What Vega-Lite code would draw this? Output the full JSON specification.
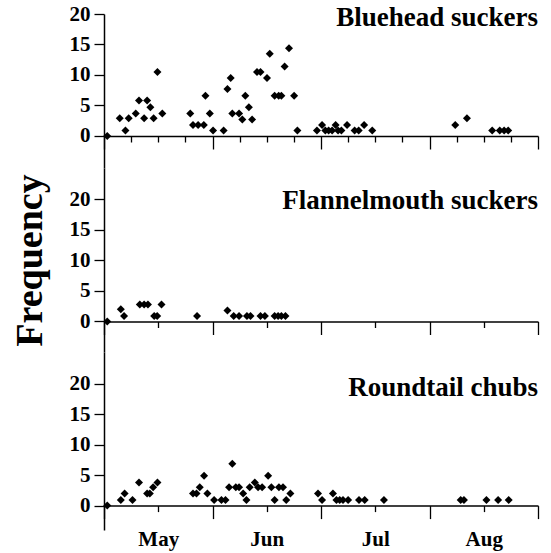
{
  "$schema": "https://vega.github.io/schema/vega-lite/v6.json",
  "background": "white",
  "padding": {"left": 10, "top": 3, "right": 5, "bottom": 5},
  "spacing": 0,
  "config": {"view": {"stroke": null}, "font": "Liberation Serif", "concat": {"spacing": 0}},
  "datasets": {
    "labels": [
      {"species": "Bluehead suckers"},
      {"species": "Flannelmouth suckers"},
      {"species": "Roundtail chubs"}
    ],
    "fish": [
      {"species": "Bluehead suckers", "week": 0.12, "freq": 0},
      {"species": "Bluehead suckers", "week": 0.58, "freq": 2.9},
      {"species": "Bluehead suckers", "week": 0.79, "freq": 0.9},
      {"species": "Bluehead suckers", "week": 0.91, "freq": 2.9},
      {"species": "Bluehead suckers", "week": 1.17, "freq": 3.7},
      {"species": "Bluehead suckers", "week": 1.29, "freq": 5.8},
      {"species": "Bluehead suckers", "week": 1.48, "freq": 2.9},
      {"species": "Bluehead suckers", "week": 1.59, "freq": 5.8},
      {"species": "Bluehead suckers", "week": 1.71, "freq": 4.7},
      {"species": "Bluehead suckers", "week": 1.83, "freq": 2.9},
      {"species": "Bluehead suckers", "week": 1.97, "freq": 10.5},
      {"species": "Bluehead suckers", "week": 2.15, "freq": 3.7},
      {"species": "Bluehead suckers", "week": 3.18, "freq": 3.7},
      {"species": "Bluehead suckers", "week": 3.28, "freq": 1.8},
      {"species": "Bluehead suckers", "week": 3.47, "freq": 1.8},
      {"species": "Bluehead suckers", "week": 3.68, "freq": 1.8},
      {"species": "Bluehead suckers", "week": 3.74, "freq": 6.6},
      {"species": "Bluehead suckers", "week": 3.9, "freq": 3.7},
      {"species": "Bluehead suckers", "week": 4.02, "freq": 0.9},
      {"species": "Bluehead suckers", "week": 4.41, "freq": 0.9},
      {"species": "Bluehead suckers", "week": 4.55, "freq": 7.7},
      {"species": "Bluehead suckers", "week": 4.67, "freq": 9.5},
      {"species": "Bluehead suckers", "week": 4.73, "freq": 3.7},
      {"species": "Bluehead suckers", "week": 4.98, "freq": 3.7},
      {"species": "Bluehead suckers", "week": 5.1, "freq": 2.7},
      {"species": "Bluehead suckers", "week": 5.21, "freq": 6.6},
      {"species": "Bluehead suckers", "week": 5.34, "freq": 4.7},
      {"species": "Bluehead suckers", "week": 5.46, "freq": 2.7},
      {"species": "Bluehead suckers", "week": 5.64, "freq": 10.5},
      {"species": "Bluehead suckers", "week": 5.77, "freq": 10.5},
      {"species": "Bluehead suckers", "week": 6.01, "freq": 9.5},
      {"species": "Bluehead suckers", "week": 6.11, "freq": 13.5},
      {"species": "Bluehead suckers", "week": 6.29, "freq": 6.6},
      {"species": "Bluehead suckers", "week": 6.44, "freq": 6.6},
      {"species": "Bluehead suckers", "week": 6.54, "freq": 6.6},
      {"species": "Bluehead suckers", "week": 6.66, "freq": 11.4},
      {"species": "Bluehead suckers", "week": 6.82, "freq": 14.4},
      {"species": "Bluehead suckers", "week": 7.01, "freq": 6.6},
      {"species": "Bluehead suckers", "week": 7.13, "freq": 0.9},
      {"species": "Bluehead suckers", "week": 7.85, "freq": 0.9},
      {"species": "Bluehead suckers", "week": 8.04, "freq": 1.8},
      {"species": "Bluehead suckers", "week": 8.16, "freq": 0.9},
      {"species": "Bluehead suckers", "week": 8.28, "freq": 0.9},
      {"species": "Bluehead suckers", "week": 8.41, "freq": 0.9},
      {"species": "Bluehead suckers", "week": 8.54, "freq": 1.8},
      {"species": "Bluehead suckers", "week": 8.63, "freq": 0.9},
      {"species": "Bluehead suckers", "week": 8.75, "freq": 0.9},
      {"species": "Bluehead suckers", "week": 8.96, "freq": 1.8},
      {"species": "Bluehead suckers", "week": 9.24, "freq": 0.9},
      {"species": "Bluehead suckers", "week": 9.39, "freq": 0.9},
      {"species": "Bluehead suckers", "week": 9.59, "freq": 1.8},
      {"species": "Bluehead suckers", "week": 9.89, "freq": 0.9},
      {"species": "Bluehead suckers", "week": 12.95, "freq": 1.8},
      {"species": "Bluehead suckers", "week": 13.38, "freq": 2.9},
      {"species": "Bluehead suckers", "week": 14.31, "freq": 0.9},
      {"species": "Bluehead suckers", "week": 14.59, "freq": 0.9},
      {"species": "Bluehead suckers", "week": 14.75, "freq": 0.9},
      {"species": "Bluehead suckers", "week": 14.9, "freq": 0.9},
      {"species": "Flannelmouth suckers", "week": 0.12, "freq": 0},
      {"species": "Flannelmouth suckers", "week": 0.62, "freq": 2.0},
      {"species": "Flannelmouth suckers", "week": 0.74, "freq": 0.9},
      {"species": "Flannelmouth suckers", "week": 1.32, "freq": 2.8},
      {"species": "Flannelmouth suckers", "week": 1.48, "freq": 2.8},
      {"species": "Flannelmouth suckers", "week": 1.62, "freq": 2.8},
      {"species": "Flannelmouth suckers", "week": 1.85, "freq": 0.9},
      {"species": "Flannelmouth suckers", "week": 1.96, "freq": 0.9},
      {"species": "Flannelmouth suckers", "week": 2.12, "freq": 2.8},
      {"species": "Flannelmouth suckers", "week": 3.43, "freq": 0.9},
      {"species": "Flannelmouth suckers", "week": 4.55, "freq": 1.8},
      {"species": "Flannelmouth suckers", "week": 4.78, "freq": 0.9},
      {"species": "Flannelmouth suckers", "week": 4.98, "freq": 0.9},
      {"species": "Flannelmouth suckers", "week": 5.27, "freq": 0.9},
      {"species": "Flannelmouth suckers", "week": 5.4, "freq": 0.9},
      {"species": "Flannelmouth suckers", "week": 5.77, "freq": 0.9},
      {"species": "Flannelmouth suckers", "week": 5.93, "freq": 0.9},
      {"species": "Flannelmouth suckers", "week": 6.29, "freq": 0.9},
      {"species": "Flannelmouth suckers", "week": 6.42, "freq": 0.9},
      {"species": "Flannelmouth suckers", "week": 6.54, "freq": 0.9},
      {"species": "Flannelmouth suckers", "week": 6.69, "freq": 0.9},
      {"species": "Roundtail chubs", "week": 0.12, "freq": 0},
      {"species": "Roundtail chubs", "week": 0.62, "freq": 0.9},
      {"species": "Roundtail chubs", "week": 0.76, "freq": 2.0},
      {"species": "Roundtail chubs", "week": 1.05, "freq": 0.9},
      {"species": "Roundtail chubs", "week": 1.29, "freq": 3.8},
      {"species": "Roundtail chubs", "week": 1.59, "freq": 2.0},
      {"species": "Roundtail chubs", "week": 1.69, "freq": 2.0},
      {"species": "Roundtail chubs", "week": 1.81, "freq": 3.0},
      {"species": "Roundtail chubs", "week": 1.97, "freq": 3.8},
      {"species": "Roundtail chubs", "week": 3.28, "freq": 2.0},
      {"species": "Roundtail chubs", "week": 3.41, "freq": 2.0},
      {"species": "Roundtail chubs", "week": 3.53, "freq": 3.0},
      {"species": "Roundtail chubs", "week": 3.69, "freq": 4.9},
      {"species": "Roundtail chubs", "week": 3.81, "freq": 2.0},
      {"species": "Roundtail chubs", "week": 4.06, "freq": 0.9},
      {"species": "Roundtail chubs", "week": 4.33, "freq": 0.9},
      {"species": "Roundtail chubs", "week": 4.48, "freq": 0.9},
      {"species": "Roundtail chubs", "week": 4.61, "freq": 3.0},
      {"species": "Roundtail chubs", "week": 4.73, "freq": 6.85},
      {"species": "Roundtail chubs", "week": 4.86, "freq": 3.0},
      {"species": "Roundtail chubs", "week": 4.98, "freq": 3.0},
      {"species": "Roundtail chubs", "week": 5.13, "freq": 2.0},
      {"species": "Roundtail chubs", "week": 5.25, "freq": 0.9},
      {"species": "Roundtail chubs", "week": 5.37, "freq": 3.0},
      {"species": "Roundtail chubs", "week": 5.56, "freq": 3.8},
      {"species": "Roundtail chubs", "week": 5.68, "freq": 3.0},
      {"species": "Roundtail chubs", "week": 5.83, "freq": 3.0},
      {"species": "Roundtail chubs", "week": 6.05, "freq": 4.9},
      {"species": "Roundtail chubs", "week": 6.17, "freq": 3.0},
      {"species": "Roundtail chubs", "week": 6.29, "freq": 0.9},
      {"species": "Roundtail chubs", "week": 6.45, "freq": 3.0},
      {"species": "Roundtail chubs", "week": 6.6, "freq": 3.0},
      {"species": "Roundtail chubs", "week": 6.72, "freq": 0.9},
      {"species": "Roundtail chubs", "week": 6.87, "freq": 2.0},
      {"species": "Roundtail chubs", "week": 7.89, "freq": 2.0},
      {"species": "Roundtail chubs", "week": 8.04, "freq": 0.9},
      {"species": "Roundtail chubs", "week": 8.44, "freq": 2.0},
      {"species": "Roundtail chubs", "week": 8.57, "freq": 0.9},
      {"species": "Roundtail chubs", "week": 8.69, "freq": 0.9},
      {"species": "Roundtail chubs", "week": 8.81, "freq": 0.9},
      {"species": "Roundtail chubs", "week": 9.0, "freq": 0.9},
      {"species": "Roundtail chubs", "week": 9.4, "freq": 0.9},
      {"species": "Roundtail chubs", "week": 9.61, "freq": 0.9},
      {"species": "Roundtail chubs", "week": 10.32, "freq": 0.9},
      {"species": "Roundtail chubs", "week": 13.15, "freq": 0.9},
      {"species": "Roundtail chubs", "week": 13.27, "freq": 0.9},
      {"species": "Roundtail chubs", "week": 14.1, "freq": 0.9},
      {"species": "Roundtail chubs", "week": 14.53, "freq": 0.9},
      {"species": "Roundtail chubs", "week": 14.92, "freq": 0.9}
    ]
  },
  "vconcat": [
    {
      "width": 434, "height": 154,
      "layer": [
        {
          "data": {"name": "fish"},
          "transform": [{"filter": "datum.species === 'Bluehead suckers'"}],
          "mark": {"type": "point", "shape": "diamond", "filled": true, "color": "black", "size": 64, "opacity": 1},
          "encoding": {
            "x": {"field": "week", "type": "quantitative", "scale": {"domain": [0, 16], "nice": false, "zero": false},
              "axis": {"values": [0,1,2,3,4,5,6,7,8,9,10,11,12,13,14,15,16], "offset": -32, "domainColor": "black", "domainWidth": 1.5, "tickColor": "black", "tickWidth": 1.3, "tickSize": {"condition": {"test": "datum.value % 4 === 0", "value": 13}, "value": 6}, "labels": false, "title": null, "grid": false}},
            "y": {"field": "freq", "type": "quantitative", "scale": {"domain": [-5.25, 20], "nice": false, "zero": false},
              "axis": {"values": [0, 5, 10, 15, 20], "tickSize": 10, "tickColor": "black", "tickWidth": 1.3, "domainColor": "black", "domainWidth": 1.5, "labelFontSize": 21, "labelFont": "Liberation Serif", "labelFontWeight": "bold", "labelColor": "black", "labelPadding": 4, "labelFlush": false, "labelOverlap": false, "title": null, "grid": false}}
          }
        },
        {
          "data": {"name": "labels"},
          "transform": [{"filter": "datum.species === 'Bluehead suckers'"}],
          "mark": {"type": "text", "align": "right", "baseline": "alphabetic", "dy": 12, "fontSize": 27, "font": "Liberation Serif", "fontWeight": "bold", "color": "black"},
          "encoding": {
            "x": {"datum": 16, "type": "quantitative",
              "axis": {"values": [0,1,2,3,4,5,6,7,8,9,10,11,12,13,14,15,16], "offset": -32, "domainColor": "black", "domainWidth": 1.5, "tickColor": "black", "tickWidth": 1.3, "tickSize": {"condition": {"test": "datum.value % 4 === 0", "value": 13}, "value": 6}, "labels": false, "title": null, "grid": false}},
            "y": {"datum": 20, "type": "quantitative",
              "axis": {"values": [0, 5, 10, 15, 20], "tickSize": 10, "tickColor": "black", "tickWidth": 1.3, "domainColor": "black", "domainWidth": 1.5, "labelFontSize": 21, "labelFont": "Liberation Serif", "labelFontWeight": "bold", "labelColor": "black", "labelPadding": 4, "labelFlush": false, "labelOverlap": false, "title": null, "grid": false}},
            "text": {"field": "species"}
          }
        }
      ]
    },
    {
      "width": 434, "height": 184,
      "layer": [
        {
          "data": {"name": "fish"},
          "transform": [{"filter": "datum.species === 'Flannelmouth suckers'"}],
          "mark": {"type": "point", "shape": "diamond", "filled": true, "color": "black", "size": 64, "opacity": 1},
          "encoding": {
            "x": {"field": "week", "type": "quantitative", "scale": {"domain": [0, 16], "nice": false, "zero": false},
              "axis": {"values": [0,1,2,3,4,5,6,7,8,9,10,11,12,13,14,15,16], "offset": -30.5, "domainColor": "black", "domainWidth": 1.5, "tickColor": "black", "tickWidth": 1.3, "tickSize": {"condition": {"test": "datum.value % 4 === 0", "value": 13}, "value": 6}, "labels": false, "title": null, "grid": false}},
            "y": {"field": "freq", "type": "quantitative", "scale": {"domain": [-5, 25.16], "nice": false, "zero": false},
              "axis": {"values": [0, 5, 10, 15, 20], "tickSize": 10, "tickColor": "black", "tickWidth": 1.3, "domainColor": "black", "domainWidth": 1.5, "labelFontSize": 21, "labelFont": "Liberation Serif", "labelFontWeight": "bold", "labelColor": "black", "labelPadding": 4, "labelFlush": false, "labelOverlap": false, "grid": false,
                "title": "Frequency", "titleFont": "Liberation Serif", "titleFontSize": 38, "titleFontWeight": "bold", "titleColor": "black", "titleAngle": -90, "titleAlign": "center", "titleBaseline": "middle", "titleX": -74, "titleY": 92}}
          }
        },
        {
          "data": {"name": "labels"},
          "transform": [{"filter": "datum.species === 'Flannelmouth suckers'"}],
          "mark": {"type": "text", "align": "right", "baseline": "alphabetic", "dy": 10, "fontSize": 27, "font": "Liberation Serif", "fontWeight": "bold", "color": "black"},
          "encoding": {
            "x": {"datum": 16, "type": "quantitative"},
            "y": {"datum": 20, "type": "quantitative"},
            "text": {"field": "species"}
          }
        }
      ]
    },
    {
      "width": 434, "height": 178,
      "layer": [
        {
          "data": {"name": "fish"},
          "transform": [{"filter": "datum.species === 'Roundtail chubs'"}],
          "mark": {"type": "point", "shape": "diamond", "filled": true, "color": "black", "size": 64, "opacity": 1},
          "encoding": {
            "x": {"field": "week", "type": "quantitative", "scale": {"domain": [0, 16], "nice": false, "zero": false},
              "axis": {"values": [0,1,2,3,4,5,6,7,8,9,10,11,12,13,14,15,16], "offset": -24.4, "domainColor": "black", "domainWidth": 1.5, "tickColor": "black", "tickWidth": 1.3, "tickSize": {"condition": {"test": "datum.value % 4 === 0", "value": 13}, "value": 6}, "labels": true, "labelExpr": "datum.value == 2 ? 'May' : datum.value == 6 ? 'Jun' : datum.value == 10 ? 'Jul' : datum.value == 14 ? 'Aug' : ''", "labelFont": "Liberation Serif", "labelFontSize": 21, "labelFontWeight": "bold", "labelColor": "black", "labelPadding": 17, "labelOverlap": false, "labelFlush": false, "title": null, "grid": false}},
            "y": {"field": "freq", "type": "quantitative", "scale": {"domain": [-4, 25.18], "nice": false, "zero": false},
              "axis": {"values": [0, 5, 10, 15, 20], "tickSize": 10, "tickColor": "black", "tickWidth": 1.3, "domainColor": "black", "domainWidth": 1.5, "labelFontSize": 21, "labelFont": "Liberation Serif", "labelFontWeight": "bold", "labelColor": "black", "labelPadding": 4, "labelFlush": false, "labelOverlap": false, "title": null, "grid": false}}
          }
        },
        {
          "data": {"name": "labels"},
          "transform": [{"filter": "datum.species === 'Roundtail chubs'"}],
          "mark": {"type": "text", "align": "right", "baseline": "alphabetic", "dy": 12, "fontSize": 27, "font": "Liberation Serif", "fontWeight": "bold", "color": "black"},
          "encoding": {
            "x": {"datum": 16, "type": "quantitative"},
            "y": {"datum": 20, "type": "quantitative"},
            "text": {"field": "species"}
          }
        }
      ]
    }
  ]
}
